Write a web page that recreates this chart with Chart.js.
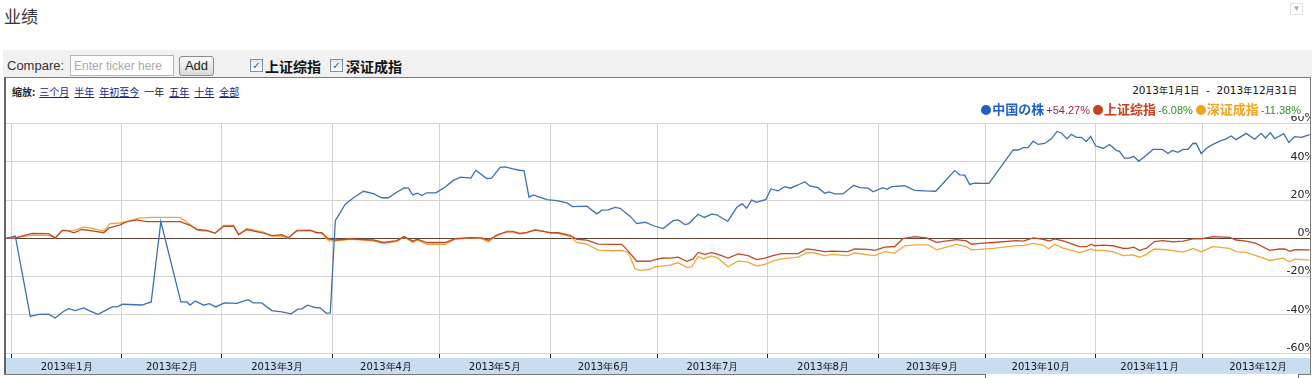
<!DOCTYPE html>
<html>
<head>
<meta charset="utf-8">
<script src="https://cdn.jsdelivr.net/npm/chart.js@4.4.0/dist/chart.umd.min.js"></script>
<style>
body{margin:0;width:1312px;height:378px;overflow:hidden;background:#fff;position:relative;
  font-family:"Liberation Sans",Arial,"Noto Sans CJK SC",sans-serif;color:#222}
.abs{position:absolute}
#title{left:4px;top:3px;font-size:17px;font-family:"Noto Sans CJK SC",sans-serif;color:#333}
#menu{left:1290px;top:3px;width:11px;height:10px;border:1px solid #e2e2e2;color:#aaa;font-size:8px;line-height:10px;text-align:center}
#bar{left:3px;top:50px;width:1309px;height:27px;background:#f1f1f1}
#cmp{left:7px;top:58px;font-size:13px;color:#333}
#inp{left:70px;top:55px;width:104px;height:21px;box-sizing:border-box;border:1px solid #b8b8b8;background:#fff;
  font-size:12px;color:#aaa;padding:3px 0 0 3px;white-space:nowrap;overflow:hidden}
#add{left:179px;top:56px;width:35px;height:20px;box-sizing:border-box;border:1px solid #8c8c8c;border-radius:3px;
  background:linear-gradient(#fbfbfb,#dadada);font-size:13px;text-align:center;line-height:18px;color:#222}
.chk{width:11px;height:11px;border:1px solid #7290b8;background:linear-gradient(#e6e6e6,#fff);
  font-size:10px;line-height:11px;text-align:center;color:#2d55a0;font-family:"DejaVu Sans",sans-serif}
.idx{font-size:14px;font-weight:bold;font-family:"Noto Sans CJK SC",sans-serif;color:#111}
#box{left:4px;top:77px;width:1307px;height:298px;box-sizing:border-box;border:1px solid #7a7a7a;border-left:2px solid #666}
#tab{left:985px;top:374px;width:312px;height:6px;background:#fff;border-left:1px solid #666;border-right:1px solid #666}
#zoom{left:12px;top:84px;font-size:10px;font-family:"Noto Sans CJK SC",sans-serif;white-space:nowrap}
#zoom b{margin-right:4px}
#zoom a{color:#1a1a8c;text-decoration:underline;margin-right:5px}
#zoom span{margin-right:5px}
#range{right:15px;top:84px;font-size:10.5px;font-family:"DejaVu Sans",sans-serif;color:#111;white-space:pre}
#range i{font-style:normal;font-size:9px;font-family:"Noto Sans CJK SC",sans-serif}
#legend{right:8px;top:99px;height:17px;padding-left:4px;background:#fff;white-space:nowrap;font-size:11px;z-index:2}
#legend .dot{display:inline-block;width:10px;height:10px;border-radius:50%;vertical-align:-1px;margin-right:1px}
#legend .nm{font-weight:bold;font-size:13px;font-family:"Noto Sans CJK SC",sans-serif}
#legend .pc{margin:0 3px 0 2px}
#chart{left:6px;top:112px}
</style>
</head>
<body>
<div class="abs" id="title">业绩</div>
<div class="abs" id="menu">▼</div>
<div class="abs" id="bar"></div>
<div class="abs" id="cmp">Compare:</div>
<div class="abs" id="inp">Enter ticker here</div>
<div class="abs" id="add">Add</div>
<div class="abs chk" style="left:250px;top:59px">✓</div>
<div class="abs idx" style="left:265px;top:56px">上证综指</div>
<div class="abs chk" style="left:330px;top:59px">✓</div>
<div class="abs idx" style="left:346px;top:56px">深证成指</div>
<div class="abs" id="box"></div>
<div class="abs" id="tab"></div>
<div class="abs" id="zoom"><b>缩放:</b><a>三个月</a><a>半年</a><a>年初至今</a><span>一年</span><a>五年</a><a>十年</a><a>全部</a></div>
<div class="abs" id="range">2013<i>年</i>1<i>月</i>1<i>日</i>  -  2013<i>年</i>12<i>月</i>31<i>日</i></div>
<div class="abs" id="legend"></div>
<canvas class="abs" id="chart" width="1304" height="262"></canvas>
<script>
// day of year (0 = 2013-01-01), percent change since start
const stock = [[-1.5,0],[1.1,1.2],[5.3,-40.9],[7.6,-39.8],[10.4,-39.7],[12.3,-41.7],[14.6,-38.3],[16,-36.8],[17.9,-37.8],[20.3,-36.4],
  [22.1,-38.1],[24.3,-39.8],[26.3,-37.8],[28.2,-35.9],[29.6,-35.9],[31.2,-34.5],[36.6,-34.9],[39.2,-33.3],[41.9,8.7],[47.5,-33.3],
  [49.2,-33.3],[50.1,-34.9],[51.5,-32.8],[53.9,-35],[55.5,-34.2],[57.3,-35.9],[59.7,-33.8],[63.2,-34],[66.3,-32.1],[67.9,-33.8],
  [70.2,-33.8],[73,-37.8],[75.8,-38.5],[78.4,-39.5],[80.3,-37.1],[81.4,-36.9],[83,-35],[85.2,-36.2],[86.6,-36.4],[88.2,-39.1],
  [89.4,-39],[90.8,9.2],[93.6,17.8],[95.9,21.2],[98.7,24.6],[101.5,23.4],[103.8,21.2],[105.7,21.2],[108,24.1],[110.1,26.3],
  [111.3,26.2],[112.5,22.7],[113.8,23.6],[115.1,22.4],[116.4,23.8],[119,23.8],[121.6,26.8],[123.9,30.3],[126,32],[128.8,31.5],
  [130.2,35.6],[133.2,31.3],[134.6,31.5],[137,37.1],[138.4,37.4],[140.3,36.4],[142.4,35.6],[143.7,35.4],[145.1,21.5],[146.3,22.7],
  [150.1,20.2],[152.9,19.7],[155.7,18.5],[157.3,16.6],[161.3,16.8],[164.1,12.8],[165.5,14.7],[167.3,14.9],[169.2,16.2],[170.6,15.7],
  [173.4,11.6],[175.3,7.7],[177.6,8.4],[180.4,6.3],[182.7,5.1],[185.5,9.2],[186.9,9.6],[188.8,7.2],[189.9,7.7],[192.5,12.6],
  [194.2,10.9],[196.3,12.6],[197.7,12.3],[200.8,8.9],[203.3,16.1],[204.8,18.1],[206.1,15.7],[207.5,20],[208.9,18.8],[211.5,20.3],
  [212.9,25.8],[214.9,24.8],[216.8,27],[218.4,26.2],[220.5,27.9],[222.4,29.6],[223.8,27.4],[226.1,26.5],[228,23.6],[229.2,24.3],
  [230.8,23.2],[233.1,23.2],[236.1,27.7],[237.8,26.5],[240.1,26.2],[241.6,24.3],[244.2,26.5],[245.5,25.6],[246.7,27],[250.4,27.5],
  [253.2,25.1],[256,24.8],[259.1,24.6],[264.4,35.4],[265.8,33.2],[267.2,33],[268.6,28.2],[270,28.9],[272.3,28.7],[274,28.7],
  [280.8,46.2],[282.2,46.2],[283.6,47.4],[285,47.4],[286.4,50.8],[287.8,49.1],[289.6,49.6],[291.5,52],[293.1,55.9],[294.3,55.1],
  [295.9,52],[297.1,54.4],[298.5,52.8],[299.9,52.8],[301.3,50.6],[302.5,53.3],[303.9,48.4],[306,47],[307.8,49.1],[309.7,46],
  [310.6,45.5],[312,41.9],[313.4,41.9],[314.6,42.9],[316,40.3],[318.1,43.4],[320,46.5],[322.6,46.5],[324.2,44.4],[325.4,46],
  [327,45],[328.4,46.5],[329.8,46.5],[331.2,49.7],[332.1,49.6],[333.5,44.3],[334.9,47],[336.8,49.1],[338.7,50.8],[340.5,52],
  [341.9,53.5],[343.3,51.6],[346.1,54.9],[348.5,51.8],[350.3,54.9],[351.5,52.5],[352.9,55.2],[354.1,52.1],[356.6,54.7],[358.1,50.1],
  [359.7,53.2],[361.6,52.8],[363.9,54.27]];

const shanghai = [[-1.5,0],[1.1,0.2],[5.8,2.6],[10.4,2.4],[12.3,0.2],[14.2,3.9],[15.6,4.1],[17.5,2.9],[19.8,4.6],[23.1,3.8],
  [25.9,2.9],[27.3,5.3],[30.5,7],[32.4,8.7],[35.2,9.6],[38,8.7],[47.3,8.7],[50.1,6.8],[52,4.6],[54.8,4.1],
  [57.1,2.7],[59.5,6.3],[62.3,6.3],[63.7,1.9],[66,4.6],[68.3,3.6],[70.7,2.7],[73,1.4],[75.8,1.9],[77.7,0.3],
  [80,3.9],[83.8,4.1],[85.6,2.9],[87,2.9],[88.9,-0.3],[90.8,-0.9],[95,-0.3],[98.7,-0.7],[101.5,-0.9],[104.3,-2.2],
  [108,-1.2],[110.1,0.9],[112.5,-1.5],[113.8,-0.5],[116.4,-2.2],[121.6,-2.2],[124.4,-0.2],[128.6,0.3],[131.8,0.2],[133.7,-1],
  [136,1.7],[138.9,3.4],[140.7,3.4],[142.6,2.4],[144.5,3.1],[146.8,4.3],[149.1,3.6],[151,2.9],[153.3,2.9],[156.6,1.5],
  [158.5,-0.5],[161.3,-1],[164.5,-3.1],[168.7,-3.2],[171.1,-3.2],[172.9,-6.7],[175.3,-12],[179,-12],[180.4,-11.1],[182.7,-10.3],
  [184.6,-10.4],[186.9,-9.9],[189.3,-12],[191.1,-10.8],[192.5,-7.4],[194.4,-8.4],[196.3,-7.5],[198.1,-8.4],[200.9,-10.3],[203.7,-8.2],
  [206.5,-9.1],[208.9,-11.1],[211.2,-10.4],[213.5,-9.1],[215.9,-8],[220.5,-8],[222.9,-5.6],[225.2,-6],[228,-7],[229.9,-6.7],
  [234.5,-7],[236.4,-5.6],[240.1,-5.8],[242,-6.3],[244.8,-4.6],[247.6,-4.3],[249.9,-0.2],[253.2,0.9],[256.5,0.2],[259.3,-2.1],
  [264.9,-0.7],[267.7,-1.4],[269.1,-3.1],[271.4,-2.7],[275.2,-2.2],[281.7,-1.2],[283.6,-1.5],[286.4,0.2],[289.2,-0.5],[291,-1.5],
  [292.4,-0.3],[294.8,-1.4],[299.4,-4.4],[301.3,-4.4],[302.7,-3.1],[303.6,-3.9],[306,-3.6],[308.8,-3.9],[311.6,-5.3],[313,-5.3],
  [314.6,-4.6],[316.2,-6.3],[318.1,-5.3],[320.4,-1.7],[322.8,-1.2],[325.6,-1.9],[328.4,-1.5],[331.2,-0.3],[333.5,-0.3],[336.8,0.9],
  [341.5,0.5],[343.3,-0.9],[346.1,-1.5],[348.9,-2.7],[352.7,-6.3],[355.5,-5.6],[356.9,-5.5],[358.3,-6.8],[359.7,-6],[363.9,-6.08]];

const shenzhen = [[-1.5,0],[1.1,0.2],[5.8,1.7],[10.4,1.5],[12.3,0.2],[14.2,4.3],[17,3.8],[20.3,6],[23.1,5],[25.9,3.8],
  [27.7,7.7],[30.5,8],[32.4,8.7],[35.7,10.6],[39.4,10.9],[47.3,10.9],[50.1,7.2],[52.5,4.1],[55.3,3.6],[57.1,2.6],
  [59.5,6.7],[62.3,6.7],[63.7,1.9],[66,5.1],[68.3,4.1],[70.7,3.2],[73,1.2],[75.8,1.2],[77.7,0.2],[80,4.3],
  [83.8,4.3],[85.6,3.2],[87,2.9],[88.9,-1.2],[90.8,-1.5],[95,-0.5],[98.7,-1],[101.5,-1.4],[104.3,-2.7],[108,-1.7],
  [110.1,0.7],[112.5,-2.2],[113.8,-1],[116.4,-3.1],[121.6,-3.1],[124.4,-0.5],[128.6,0.2],[131.8,-0.2],[133.7,-1.9],[136,1.2],
  [138.9,3.8],[140.7,3.8],[142.6,2.6],[144.5,2.9],[146.8,4.6],[149.1,3.8],[151,2.9],[153.3,2.6],[156.6,0.9],[158.5,-2.2],
  [161.3,-3.1],[164.5,-6.2],[168.7,-6.5],[171.1,-6.3],[172.9,-7.4],[174.8,-15.9],[176.2,-16.8],[179,-16.2],[180.4,-15],[182.7,-14.4],
  [184.6,-14],[186.9,-12.8],[189.3,-15.2],[190.7,-15],[192.5,-9.4],[193.9,-10.8],[196.3,-9.2],[198.1,-10.4],[200.9,-14.9],[203.7,-11.8],
  [206.5,-12.5],[208.9,-14.5],[211.2,-13.7],[213.5,-11.8],[215.9,-10.8],[220.5,-9.9],[222.9,-7.5],[225.2,-7.7],[228,-9.1],[229.9,-8.4],
  [234.5,-9.1],[236.4,-7.7],[240.1,-8.7],[242,-9.1],[244.8,-7],[247.6,-7.7],[250.4,-3.9],[253.2,-3.4],[256.9,-3.4],[259.3,-6],
  [264.9,-3.2],[267.7,-4.4],[269.1,-6],[271.4,-5.8],[275.2,-5.3],[281.7,-3.8],[283.6,-3.8],[286.4,-2.7],[289.2,-3.6],[290.7,-5.5],
  [292.4,-3.1],[294.8,-5.1],[299.4,-7.5],[302.7,-5.6],[303.6,-6.3],[306,-6.3],[308.8,-7],[311.6,-9.1],[314.4,-8.7],[316.2,-9.9],
  [318.1,-8.4],[320.4,-5.6],[323.7,-6],[328.4,-7.2],[331.2,-5.3],[333.5,-7],[336.8,-4.4],[341.5,-5.3],[343.3,-7],[346.1,-7.4],
  [348.9,-9.1],[352.7,-11.6],[356.4,-10.4],[358.3,-12.3],[359.7,-10.9],[363.9,-11.38]];

const seriesNames = ['中国の株', '上证综指', '深证成指'];
const seriesColors = ['#3c6fb6', '#bf4a2a', '#f2a63a'];
const legendColors = ['#1f60c4', '#c8411c', '#f4a11c'];
const changes = ['+54.27%', '-6.08%', '-11.38%'];
const changeColors = ['#a3234f', '#2e8b2e', '#2e8b2e'];

const monthStarts = [0, 31, 59, 90, 120, 151, 181, 212, 243, 273, 304, 334, 365];
const monthLabels = ['2013年1月','2013年2月','2013年3月','2013年4月','2013年5月','2013年6月',
  '2013年7月','2013年8月','2013年9月','2013年10月','2013年11月','2013年12月'];
const yTicks = [-60, -40, -20, 0, 20, 40, 60];

// legend
document.getElementById('legend').innerHTML = seriesNames.map((n, i) =>
  '<span class="dot" style="background:' + legendColors[i] + '"></span>' +
  '<span class="nm" style="color:' + legendColors[i] + '">' + n + '</span>' +
  '<span class="pc" style="color:' + changeColors[i] + '">' + changes[i] + '</span>').join('');

const bandPlugin = {
  id: 'band',
  beforeDraw(chart) {
    const s = chart.scales.months;
    const ctx = chart.ctx;
    ctx.save();
    ctx.fillStyle = '#c9ddf2';
    ctx.fillRect(s.left, s.top, s.right - s.left, s.bottom - s.top);
    ctx.restore();
  }
};

const toPts = arr => arr.map(p => ({x: p[0], y: p[1]}));

new Chart(document.getElementById('chart'), {
  type: 'line',
  data: {
    datasets: [
      {label: seriesNames[0], data: toPts(stock), borderColor: seriesColors[0], order: 0},
      {label: seriesNames[1], data: toPts(shanghai), borderColor: seriesColors[1], order: 1},
      {label: seriesNames[2], data: toPts(shenzhen), borderColor: seriesColors[2], order: 2}
    ]
  },
  options: {
    responsive: false,
    animation: false,
    devicePixelRatio: 1,
    layout: {padding: {top: 7, left: 0, right: 0, bottom: 0}},
    elements: {line: {borderWidth: 1.3, tension: 0}, point: {radius: 0}},
    plugins: {legend: {display: false}, tooltip: {enabled: false}},
    scales: {
      x: {
        type: 'linear', min: -1.5, max: 364, position: 'bottom', weight: 0,
        afterBuildTicks: s => { s.ticks = monthStarts.slice(0, 12).map(v => ({value: v})); },
        afterFit: s => { s.height = 5; },
        grid: {color: '#d2d2d2', tickColor: '#222', tickLength: 5, drawTicks: true},
        border: {display: false},
        ticks: {display: false}
      },
      months: {
        type: 'linear', min: -1.5, max: 364, position: 'bottom', weight: 1,
        afterBuildTicks: s => { s.ticks = monthLabels.map((l, i) => ({value: (monthStarts[i] + monthStarts[i + 1]) / 2})); },
        afterFit: s => { s.height = 16; },
        grid: {display: false, drawTicks: false},
        border: {display: false},
        ticks: {autoSkip: false, maxRotation: 0, padding: 3, color: '#111',
          font: {family: 'DejaVu Sans', size: 10},
          callback: (v, i) => monthLabels[i]}
      },
      y: {
        min: -60, max: 60, position: 'right',
        afterBuildTicks: s => { s.ticks = yTicks.map(v => ({value: v})); },
        afterFit: s => { s.width = 0; },
        grid: {drawTicks: false, color: c => (c.tick && c.tick.value === 0) ? '#5c4236' : '#d2d2d2'},
        border: {display: false},
        ticks: {mirror: true, padding: 5, labelOffset: -5, color: '#222',
          font: {family: 'DejaVu Sans', size: 11},
          callback: v => v + '%'}
      }
    }
  },
  plugins: [bandPlugin]
});
</script>
</body>
</html>
